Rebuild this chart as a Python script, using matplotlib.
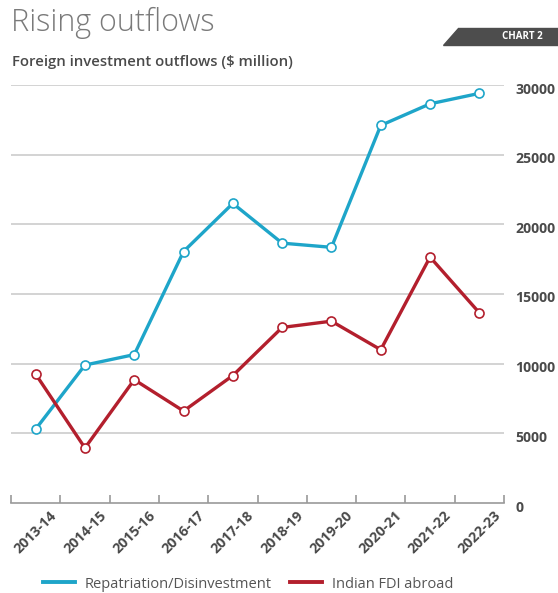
import matplotlib
matplotlib.use("Agg")
import matplotlib.pyplot as plt
from matplotlib.patches import Polygon
from matplotlib.lines import Line2D
import matplotlib.transforms as mtransforms
import numpy as np

years = ["2013-14", "2014-15", "2015-16", "2016-17", "2017-18",
         "2018-19", "2019-20", "2020-21", "2021-22", "2022-23"]
repatriation = [5300, 9900, 10650, 18050, 21500, 18650, 18350, 27100, 28650, 29400]
fdi_abroad = [9250, 3950, 8850, 6600, 9150, 12600, 13050, 11000, 17650, 13650]
y_ticks = [0, 5000, 10000, 15000, 20000, 25000, 30000]

BLUE = "#1ea5c9"
RED = "#b31f2d"
TXT = "#4a4a4a"
FONT = ["Open Sans", "DejaVu Sans"]
plt.rcParams["font.family"] = FONT

fig = plt.figure(figsize=(5.58, 5.93), dpi=100)
ax = fig.add_axes([11/558, 1 - 503/593, (504 - 11)/558, (503 - 85)/593])

x = np.arange(len(years))
ax.plot(x, repatriation, color=BLUE, lw=2.4, marker="o", ms=6.5, mfc="white",
        mec=BLUE, mew=1.2, clip_on=False, zorder=3)
ax.plot(x, fdi_abroad, color=RED, lw=2.4, marker="o", ms=6.5, mfc="white",
        mec=RED, mew=1.2, clip_on=False, zorder=3)

ax.set_xlim(-0.5, len(years) - 0.5)
ax.set_ylim(0, 30000)
for s in ["top", "left", "right"]:
    ax.spines[s].set_visible(False)
ax.spines["bottom"].set_color("#9a9a9a")
ax.spines["bottom"].set_linewidth(1.2)

ax.yaxis.tick_right()
ax.set_yticks(y_ticks)
ax.set_yticklabels([str(v) for v in y_ticks])
ax.tick_params(axis="y", length=0, pad=8, labelsize=10.2, labelcolor=TXT)
shift = mtransforms.ScaledTranslation(0, -3/100, fig.dpi_scale_trans)
for lab in ax.get_yticklabels():
    lab.set_fontweight("bold")
    lab.set_transform(lab.get_transform() + shift)
for v in y_ticks[1:]:
    ax.axhline(v, color="#d0d0d0", lw=1.3, zorder=1)

ax.set_xticks(np.arange(len(years) + 1) - 0.5)
ax.set_xticklabels([])
ax.tick_params(axis="x", direction="in", length=6, color="#9a9a9a", width=1.2)
ax.set_xticks(x, minor=True)
ax.set_xticklabels(years, minor=True, rotation=45, ha="center", va="top",
                   fontsize=10.3, color=TXT, fontweight="bold")
ax.tick_params(axis="x", which="minor", length=0, pad=4)

fig.text(11/558, 1 - 23/593, "Rising outflows", fontsize=22, color="#7a7a7a",
         fontweight="light", va="center", ha="left")
fig.text(12/558, 1 - 62/593, "Foreign investment outflows ($ million)",
         fontsize=10.7, color=TXT, fontweight="semibold", va="center", ha="left")

badge = Polygon([[458/558, 1 - 28/593], [558/558, 1 - 28/593],
                 [558/558, 1 - 45/593], [443/558, 1 - 45/593]],
                closed=True, transform=fig.transFigure, color="#4d4d4d")
fig.patches.append(badge)
fig.text(522/558, 1 - 36.5/593, "CHART 2", fontsize=7, color="white",
         fontweight="bold", va="center", ha="center")

handles = [Line2D([], [], color=BLUE, lw=2.8),
           Line2D([], [], color=RED, lw=2.8)]
fig.legend(handles, ["Repatriation/Disinvestment", "Indian FDI abroad"],
           loc="center", bbox_to_anchor=(248/558, 1 - 584/593), ncol=2,
           frameon=False, fontsize=10.5, labelcolor="#555555",
           handlelength=2.2, columnspacing=1.2, handletextpad=0.7)

fig.savefig("out.png", dpi=100)
